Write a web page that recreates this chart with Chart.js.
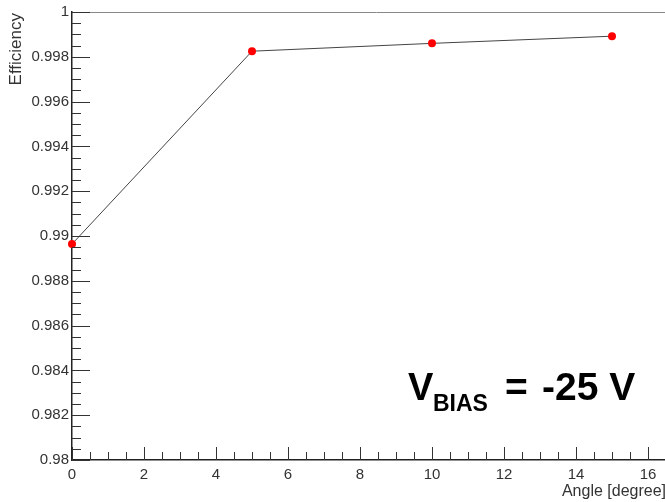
<!DOCTYPE html>
<html>
<head>
<meta charset="utf-8">
<script src="https://cdn.jsdelivr.net/npm/chart.js@4"></script>
<style>
html,body{margin:0;padding:0;background:#fff;overflow:hidden;}
#wrap{width:665px;height:502px;overflow:hidden;position:relative;}
canvas{display:block;}
</style>
</head>
<body>
<div id="wrap"><canvas id="c" width="680" height="502"></canvas></div>
<script>
// Data
const angles = [0, 5, 10, 15];
const efficiency = [0.98964, 0.99825, 0.99860, 0.99892];
const xTickValues = [0, 2, 4, 6, 8, 10, 12, 14, 16];
const yTickValues = [0.98, 0.982, 0.984, 0.986, 0.988, 0.99, 0.992, 0.994, 0.996, 0.998, 1];
const xTitle = 'Angle [degree]';
const yTitle = 'Efficiency';

const FONT = '"Liberation Sans", Arial, Helvetica, sans-serif';

const rootTicks = {
  id: 'rootTicks',
  afterDraw(chart) {
    const {ctx, chartArea: a, scales: {x, y}} = chart;
    ctx.save();
    // top frame line
    ctx.strokeStyle = '#888';
    ctx.lineWidth = 1;
    ctx.beginPath();
    ctx.moveTo(a.left, Math.round(a.top) + 0.5);
    ctx.lineTo(a.right + 20, Math.round(a.top) + 0.5);
    ctx.stroke();
    // tick marks pointing inward
    ctx.strokeStyle = '#333';
    ctx.lineWidth = 1;
    const yStep = 0.0005;
    const nY = Math.round((y.max - y.min) / yStep);
    for (let i = 0; i <= nY; i++) {
      const v = y.min + i * yStep;
      const py = Math.round(y.getPixelForValue(v)) + 0.5;
      const len = (i % 4 === 0) ? 18 : 9;
      ctx.beginPath();
      ctx.moveTo(a.left, py);
      ctx.lineTo(a.left + len, py);
      ctx.stroke();
    }
    const xStep = 0.5;
    const nX = Math.round((x.max - x.min) / xStep);
    for (let i = 0; i <= nX; i++) {
      const v = x.min + i * xStep;
      const px = Math.round(x.getPixelForValue(v)) + 0.5;
      const len = (i % 4 === 0) ? 13 : 8;
      ctx.beginPath();
      ctx.moveTo(px, a.bottom);
      ctx.lineTo(px, a.bottom - len);
      ctx.stroke();
    }
    // y axis title (ROOT style: right-aligned at top)
    ctx.save();
    ctx.fillStyle = '#333';
    ctx.font = '17px ' + FONT;
    ctx.translate(21, a.top + 1);
    ctx.rotate(-Math.PI / 2);
    ctx.textAlign = 'right';
    ctx.textBaseline = 'alphabetic';
    ctx.fillText(yTitle, 0, 0);
    ctx.restore();
    // annotation
    ctx.fillStyle = '#000';
    ctx.textBaseline = 'alphabetic';
    ctx.textAlign = 'left';
    const bx = a.left + 336, by = 400;
    ctx.font = 'bold 38px ' + FONT;
    ctx.fillText('V', bx, by);
    ctx.font = 'bold 23px ' + FONT;
    ctx.fillText('BIAS', bx + 25, by + 11);
    ctx.font = 'bold 39px ' + FONT;
    ctx.fillText('=', bx + 97, by);
    ctx.fillText('-25 V', bx + 134, by);
    ctx.restore();
  }
};

new Chart(document.getElementById('c'), {
  type: 'line',
  data: {
    datasets: [{
      data: angles.map((a, i) => ({x: a, y: efficiency[i]})),
      borderColor: '#444',
      borderWidth: 1,
      pointBackgroundColor: '#ff0000',
      pointBorderColor: '#ff0000',
      pointBorderWidth: 0,
      pointRadius: 4,
      tension: 0,
      clip: false
    }]
  },
  options: {
    responsive: false,
    animation: false,
    layout: {padding: {left: 0, right: 14, top: 12, bottom: 0}},
    plugins: {legend: {display: false}, tooltip: {enabled: false}},
    scales: {
      x: {
        type: 'linear',
        min: 0, max: 16.5,
        afterBuildTicks: s => { s.ticks = xTickValues.map(v => ({value: v})); },
        afterFit: s => { s.height = 42; },
        grid: {display: false, drawTicks: false},
        border: {display: true, color: '#222', width: 1.5},
        ticks: {
          padding: 6, maxRotation: 0, autoSkip: false,
          color: '#333', font: {family: FONT, size: 15},
          callback: v => String(v)
        },
        title: {display: true, text: xTitle, align: 'end', color: '#333',
                font: {family: FONT, size: 16}, padding: {top: 0, bottom: 1}}
      },
      y: {
        type: 'linear',
        min: 0.98, max: 1,
        afterBuildTicks: s => { s.ticks = yTickValues.map(v => ({value: v})); },
        afterFit: s => { s.width = 72; },
        grid: {display: false, drawTicks: false},
        border: {display: true, color: '#222', width: 1.5},
        ticks: {
          padding: 3, autoSkip: false,
          color: '#333', font: {family: FONT, size: 15},
          callback: v => String(parseFloat(v.toFixed(3)))
        },
        title: {display: false}
      }
    }
  },
  plugins: [rootTicks]
});
</script>
</body>
</html>
